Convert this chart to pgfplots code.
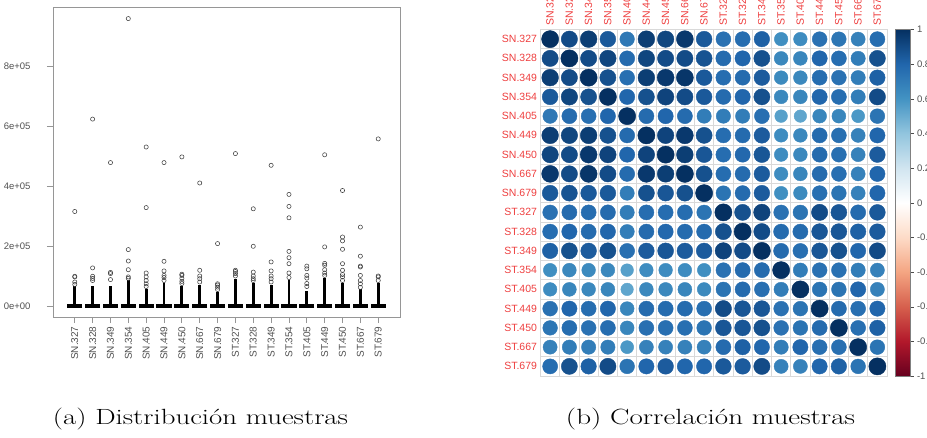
\documentclass[border=0pt]{standalone}
\usepackage{fontspec}
\usepackage{graphicx}
\usepackage{pgfplots}
\usepackage{pgfplotstable}
\pgfplotsset{compat=1.18}
\newfontfamily\arial{Liberation Sans}
\definecolor{rlab}{RGB}{80,80,80}
\definecolor{rframe}{RGB}{150,150,150}
\definecolor{ctred}{RGB}{238,62,62}

% dense part of each box (whisker + packed outliers)
\pgfplotstableread{
x top
1 65000
2 68000
3 67000
4 85000
5 58000
6 78000
7 65000
8 70000
9 45000
10 90000
11 75000
12 70000
13 85000
14 50000
15 92000
16 75000
17 55000
18 75000
}\densecols

\pgfplotstableread{
x y
1 72000
1 80000
1 97000
1 99000
1 315000
2 85000
2 92000
2 99000
2 127000
2 623000
3 88000
3 108000
3 112000
3 478000
4 92000
4 97000
4 121000
4 150000
4 188000
4 958000
5 65000
5 74000
5 85000
5 97000
5 110000
5 328000
5 530000
6 85000
6 95000
6 102000
6 117000
6 149000
6 478000
7 75000
7 82000
7 92000
7 102000
7 106000
7 497000
8 80000
8 91000
8 100000
8 119000
8 410000
9 55000
9 63000
9 70000
9 74000
9 208000
10 100000
10 108000
10 115000
10 119000
10 508000
11 85000
11 91000
11 100000
11 113000
11 199000
11 324000
12 80000
12 91000
12 100000
12 117000
12 147000
12 469000
13 95000
13 110000
13 141000
13 161000
13 182000
13 294000
13 332000
13 372000
14 65000
14 75000
14 93000
14 102000
14 124000
14 133000
15 102000
15 110000
15 121000
15 136000
15 142000
15 197000
15 504000
16 85000
16 97000
16 105000
16 119000
16 141000
16 189000
16 217000
16 230000
16 385000
17 62000
17 74000
17 85000
17 102000
17 130000
17 133000
17 166000
17 263000
18 85000
18 97000
18 100000
18 557000
}\outliers

\pgfplotstableread{
c1 c2 c3 c4 c5 c6 c7 c8 c9 c10 c11 c12 c13 c14 c15 c16 c17 c18
1.00 0.90 0.95 0.85 0.72 0.95 0.92 0.97 0.85 0.75 0.77 0.82 0.62 0.63 0.75 0.73 0.68 0.77
0.90 1.00 0.90 0.92 0.78 0.92 0.90 0.90 0.87 0.78 0.80 0.88 0.65 0.66 0.80 0.77 0.70 0.88
0.95 0.90 1.00 0.88 0.76 0.95 0.97 0.98 0.85 0.77 0.78 0.84 0.64 0.65 0.77 0.75 0.70 0.82
0.85 0.92 0.88 1.00 0.80 0.88 0.93 0.90 0.85 0.78 0.80 0.88 0.65 0.66 0.80 0.77 0.70 0.90
0.72 0.78 0.76 0.80 1.00 0.78 0.80 0.78 0.70 0.70 0.70 0.76 0.55 0.53 0.66 0.66 0.58 0.74
0.95 0.92 0.95 0.88 0.78 1.00 0.93 0.97 0.88 0.77 0.78 0.84 0.63 0.65 0.78 0.76 0.68 0.80
0.92 0.90 0.97 0.93 0.80 0.93 1.00 0.95 0.86 0.77 0.79 0.86 0.63 0.65 0.78 0.76 0.68 0.84
0.97 0.90 0.98 0.90 0.78 0.97 0.95 1.00 0.88 0.77 0.78 0.84 0.63 0.66 0.78 0.76 0.68 0.80
0.85 0.87 0.85 0.85 0.70 0.88 0.86 0.88 1.00 0.74 0.78 0.84 0.62 0.64 0.76 0.74 0.68 0.80
0.75 0.78 0.77 0.78 0.70 0.77 0.77 0.77 0.74 1.00 0.88 0.93 0.75 0.74 0.90 0.86 0.78 0.85
0.77 0.80 0.78 0.80 0.70 0.78 0.79 0.78 0.78 0.88 1.00 0.90 0.78 0.78 0.86 0.86 0.82 0.84
0.82 0.88 0.84 0.88 0.76 0.84 0.86 0.84 0.84 0.93 0.90 1.00 0.78 0.76 0.86 0.88 0.80 0.90
0.62 0.65 0.64 0.65 0.55 0.63 0.63 0.63 0.62 0.75 0.78 0.78 1.00 0.70 0.75 0.75 0.70 0.68
0.63 0.66 0.65 0.66 0.53 0.65 0.65 0.66 0.64 0.74 0.78 0.76 0.70 1.00 0.74 0.74 0.80 0.68
0.75 0.80 0.77 0.80 0.66 0.78 0.78 0.78 0.76 0.90 0.86 0.86 0.75 0.74 1.00 0.78 0.76 0.80
0.73 0.77 0.75 0.77 0.66 0.76 0.76 0.76 0.74 0.86 0.86 0.88 0.75 0.74 0.78 1.00 0.76 0.82
0.68 0.70 0.70 0.70 0.58 0.68 0.68 0.68 0.68 0.78 0.82 0.80 0.70 0.80 0.76 0.76 1.00 0.74
0.77 0.88 0.82 0.90 0.74 0.80 0.84 0.80 0.80 0.85 0.84 0.90 0.68 0.68 0.80 0.82 0.74 1.00
}\corr

\begin{document}
\begin{tikzpicture}
\useasboundingbox (0pt,0pt) rectangle (927pt,437pt);
\clip (0pt,0pt) rectangle (927pt,437pt);

% (a) boxplot
\begin{axis}[
  at={(53pt,120pt)}, anchor=south west, scale only axis,
  width=347pt, height=310pt,
  xmin=-0.22, xmax=19.22, ymin=-36667, ymax=996667,
  axis line style={rframe, line width=0.8pt},
  tick align=outside, tick pos=left, major tick length=6pt,
  tick style={rframe, line width=0.8pt},
  xtick={1,...,18},
  xticklabels={SN.327,SN.328,SN.349,SN.354,SN.405,SN.449,SN.450,SN.667,SN.679,
               ST.327,ST.328,ST.349,ST.354,ST.405,ST.449,ST.450,ST.667,ST.679},
  xticklabel style={rotate=90, anchor=east, text=rlab, font=\arial\fontsize{10}{12}\selectfont},
  ytick={0,200000,400000,600000,800000},
  yticklabels={0e+00,2e+05,4e+05,6e+05,8e+05},
  scaled y ticks=false,
  yticklabel style={text=rlab, font=\arial\fontsize{9.5}{11}\selectfont, xshift=-13pt},
]
\addplot[ycomb, black, line width=2.8pt] table[x=x, y=top] {\densecols};
\addplot[only marks, mark=-, mark size=7.6pt, black, mark options={line width=3.2pt}]
  table[x=x, y expr=0] {\densecols};
\addplot[only marks, mark=o, mark size=2.1pt, black!75, mark options={line width=0.55pt}]
  table[x=x, y=y] {\outliers};
\end{axis}

% (b) correlation plot
\begin{axis}[
  at={(540.5pt,61pt)}, anchor=south west, scale only axis,
  width=346.5pt, height=346.5pt,
  xmin=0.5, xmax=18.5, ymin=0.5, ymax=18.5, y dir=reverse,
  axis line style={gray!30, line width=0.6pt},
  major tick length=0pt, minor tick length=0pt,
  xtick={1,...,18}, ytick={1,...,18},
  minor xtick={0.5,1.5,...,18.5}, minor ytick={0.5,1.5,...,18.5},
  xminorgrids, yminorgrids,
  minor grid style={gray!30, line width=0.6pt},
  xticklabel pos=upper,
  xticklabels={SN.327,SN.328,SN.349,SN.354,SN.405,SN.449,SN.450,SN.667,SN.679,
               ST.327,ST.328,ST.349,ST.354,ST.405,ST.449,ST.450,ST.667,ST.679},
  yticklabels={SN.327,SN.328,SN.349,SN.354,SN.405,SN.449,SN.450,SN.667,SN.679,
               ST.327,ST.328,ST.349,ST.354,ST.405,ST.449,ST.450,ST.667,ST.679},
  xticklabel style={rotate=90, anchor=west, text=ctred, font=\arial\fontsize{10.5}{12}\selectfont},
  yticklabel style={anchor=east, text=ctred, font=\arial\fontsize{10.5}{12}\selectfont},
  colormap={corr}{rgb255=(103,0,31) rgb255=(178,24,43) rgb255=(214,96,77)
    rgb255=(244,165,130) rgb255=(253,219,199) rgb255=(255,255,255)
    rgb255=(209,229,240) rgb255=(146,197,222) rgb255=(67,147,195)
    rgb255=(33,102,172) rgb255=(5,48,97)},
  point meta min=-1, point meta max=1,
  colorbar,
  colorbar style={
    at={(parent axis.south east)}, anchor=south west,
    scale only axis, width=15pt, height=346.5pt,
    ytick={-1,-0.8,-0.6,-0.4,-0.2,0,0.2,0.4,0.6,0.8,1},
    yticklabels={-1,-0.8,-0.6,-0.4,-0.2,0,0.2,0.4,0.6,0.8,1},
    ytick pos=right, tick align=outside, major tick length=3pt,
    tick style={black!70}, axis line style={black!50},
    yticklabel style={text=rlab, font=\arial\fontsize{9.5}{11}\selectfont},
  },
]
\pgfplotsinvokeforeach{1,...,18}{
  \addplot[scatter, only marks, mark=*,
    point meta=\thisrow{c#1},
    scatter/use mapped color={draw=mapped color, fill=mapped color},
    visualization depends on={\thisrow{c#1} \as \rr},
    scatter/@pre marker code/.append style={/tikz/mark size={8.6*sqrt(\rr)}}]
    table[x expr=#1, y expr=\coordindex+1] {\corr};
}
\end{axis}

\node[anchor=base, font=\fontsize{22}{26}\selectfont] at (200.5pt,13pt)
  {\resizebox{295pt}{\height}{(a) Distribución muestras}};
\node[anchor=base, font=\fontsize{22}{26}\selectfont] at (710.5pt,13pt)
  {\resizebox{289pt}{\height}{(b) Correlación muestras}};
\end{tikzpicture}
\end{document}
